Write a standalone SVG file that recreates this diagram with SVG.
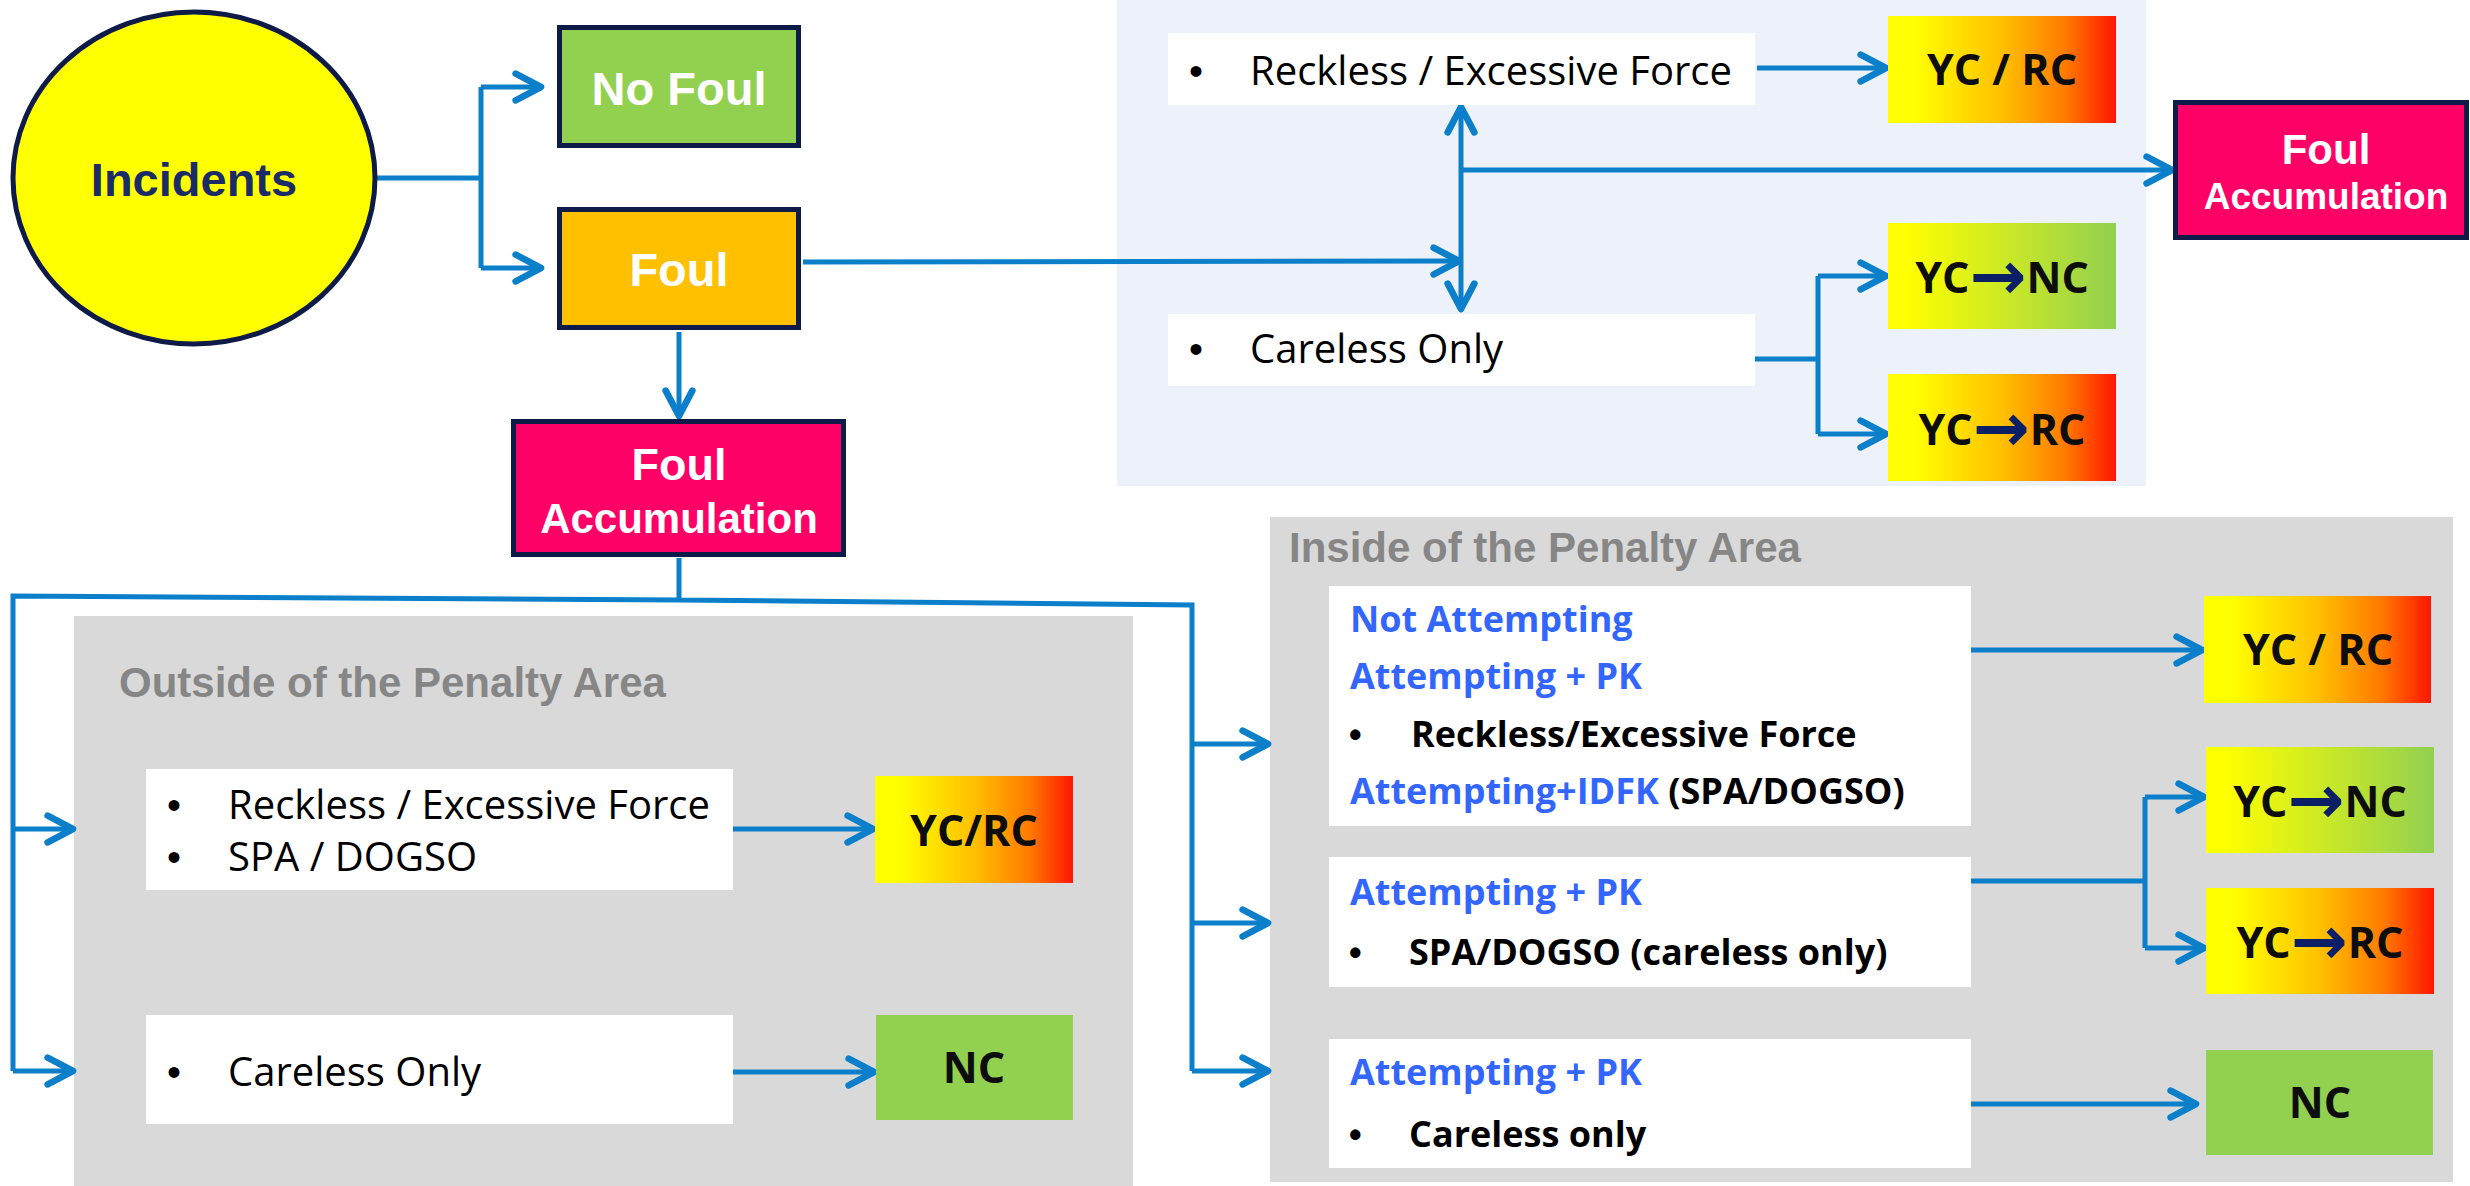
<svg xmlns="http://www.w3.org/2000/svg" width="2470" height="1186" viewBox="0 0 2470 1186">
<defs>
<linearGradient id="gYR" x1="0" y1="0" x2="1" y2="0">
<stop offset="0" stop-color="#FFFF00"/>
<stop offset="0.12" stop-color="#FFFF00"/>
<stop offset="0.5" stop-color="#FFC000"/>
<stop offset="0.78" stop-color="#FF7A00"/>
<stop offset="1" stop-color="#FF1600"/>
</linearGradient>
<linearGradient id="gYG" x1="0" y1="0" x2="1" y2="0">
<stop offset="0" stop-color="#FFFF00"/>
<stop offset="0.08" stop-color="#FFFF00"/>
<stop offset="1" stop-color="#92D050"/>
</linearGradient>
<marker id="ah" markerUnits="userSpaceOnUse" markerWidth="40" markerHeight="40" viewBox="-25 -15 30 30" refX="0" refY="0" orient="auto-start-reverse" overflow="visible">
<path d="M-19,-10 L0,0 L-19,10" fill="none" stroke="#0B7FC9" stroke-width="5" stroke-linecap="round" stroke-linejoin="round"/>
</marker>
</defs>
<style>
.hd{font-family:"Liberation Sans",Arial,sans-serif;font-weight:bold;}
.sg{font-family:"Open Sans","Noto Sans",sans-serif;}
.sgb{font-family:"Open Sans","Noto Sans",sans-serif;font-weight:bold;}
.ln{fill:none;stroke:#0B7FC9;stroke-width:5;}
.ae{marker-end:url(#ah);}
.ab{marker-start:url(#ah);marker-end:url(#ah);}
.nb{stroke:#0E1A47;stroke-width:5;}
.wb{fill:#FFFFFF;}
.res{font-family:"Open Sans","Noto Sans",sans-serif;font-weight:bold;font-size:43px;fill:#0D0D0D;text-anchor:middle;}
.arw{font-family:"DejaVu Sans",sans-serif;font-weight:bold;font-size:68px;fill:#0A1F66;}
.rt{font-size:40px;fill:#000000;}
.bt{font-size:36px;}
.bul{font-family:"Liberation Sans",Arial,sans-serif;}
.blue{fill:#3366FF;}
.blk{fill:#000000;}
.wt{fill:#FFFFFF;text-anchor:middle;}
.gh{font-size:42px;fill:#868686;}
</style>
<rect x="0" y="0" width="2470" height="1186" fill="#FFFFFF"/>

<g id="panel-top"><rect x="1117" y="0" width="1029" height="486" fill="#EDF2FA"/></g>
<g id="panel-outside"><rect x="74" y="616" width="1059" height="570" fill="#D9D9D9"/>
<text class="hd gh" x="119" y="697">Outside of the Penalty Area</text></g>
<g id="panel-inside"><rect x="1270" y="517" width="1183" height="665" fill="#D9D9D9"/>
<text class="hd gh" x="1289" y="562">Inside of the Penalty Area</text></g>

<g id="connectors">
<path class="ln" d="M376,178 H481 M481,87 V268"/>
<path class="ln ae" d="M481,87 H541"/>
<path class="ln ae" d="M481,268 H541"/>
<path class="ln ae" d="M803,262 L1459,261"/>
<path class="ln ab" d="M1461,107 V309"/>
<path class="ln ae" d="M1461,170 H2172"/>
<path class="ln ae" d="M1757,68 H1886"/>
<path class="ln" d="M1755,359 H1818 M1818,276 V434"/>
<path class="ln ae" d="M1818,276 H1886"/>
<path class="ln ae" d="M1818,434 H1886"/>
<path class="ln ae" d="M679,332 V416"/>
<path class="ln" d="M679,558 V600 M679,600 L13,596 V1071 M679,600 L1192,605 V1071"/>
<path class="ln ae" d="M13,829 H73"/>
<path class="ln ae" d="M13,1071 H73"/>
<path class="ln ae" d="M1192,744 H1268"/>
<path class="ln ae" d="M1192,923 H1268"/>
<path class="ln ae" d="M1192,1071 H1268"/>
<path class="ln ae" d="M733,829 H873"/>
<path class="ln ae" d="M733,1072 H874"/>
<path class="ln ae" d="M1971,650 H2202"/>
<path class="ln" d="M1971,881 H2145 M2145,797 V948"/>
<path class="ln ae" d="M2145,797 H2204"/>
<path class="ln ae" d="M2145,948 H2204"/>
<path class="ln ae" d="M1971,1104 H2196"/>
</g>

<g id="incidents">
<ellipse cx="194" cy="178" rx="181" ry="166" fill="#FFFF00" class="nb"/>
<text class="hd" x="194" y="196" font-size="47" fill="#1B2B68" text-anchor="middle">Incidents</text>
</g>
<g id="no-foul">
<rect x="559.5" y="27.5" width="239" height="118" fill="#92D050" class="nb"/>
<text class="hd wt" x="679" y="105" font-size="47">No Foul</text>
</g>
<g id="foul">
<rect x="559.5" y="209.5" width="239" height="118" fill="#FFC000" class="nb"/>
<text class="hd wt" x="679" y="286" font-size="47">Foul</text>
</g>
<g id="foul-accumulation-mid">
<rect x="513.5" y="421.5" width="330" height="133" fill="#FF0066" class="nb"/>
<text class="hd wt" x="679" y="480" font-size="45">Foul</text>
<text class="hd wt" x="679" y="533" font-size="42">Accumulation</text>
</g>
<g id="foul-accumulation-right">
<rect x="2175.5" y="102.5" width="291" height="135" fill="#FF0066" class="nb"/>
<text class="hd wt" x="2326" y="164" font-size="42">Foul</text>
<text class="hd wt" x="2326" y="209" font-size="37">Accumulation</text>
</g>

<g id="top-reckless">
<rect class="wb" x="1168" y="33" width="587" height="72"/>
<text class="sg rt" y="85"><tspan class="bul" x="1189">•</tspan><tspan x="1250">Reckless / Excessive Force</tspan></text>
</g>
<g id="top-careless">
<rect class="wb" x="1168" y="314" width="587" height="72"/>
<text class="sg rt" y="363"><tspan class="bul" x="1189">•</tspan><tspan x="1250">Careless Only</tspan></text>
</g>
<g id="top-ycrc">
<rect x="1888" y="16" width="228" height="107" fill="url(#gYR)"/>
<text class="res" x="2002" y="85">YC / RC</text>
</g>
<g id="top-ycnc">
<rect x="1888" y="223" width="228" height="106" fill="url(#gYG)"/>
<text class="res" x="2002" y="293">YC<tspan class="arw" dy="6">→</tspan><tspan dy="-6">NC</tspan></text>
</g>
<g id="top-ycrc2">
<rect x="1888" y="374" width="228" height="107" fill="url(#gYR)"/>
<text class="res" x="2002" y="445">YC<tspan class="arw" dy="6">→</tspan><tspan dy="-6">RC</tspan></text>
</g>

<g id="out-reckless">
<rect class="wb" x="146" y="769" width="587" height="121"/>
<text class="sg rt" y="819"><tspan class="bul" x="167">•</tspan><tspan x="228">Reckless / Excessive Force</tspan></text>
<text class="sg rt" y="871"><tspan class="bul" x="167">•</tspan><tspan x="228">SPA / DOGSO</tspan></text>
</g>
<g id="out-careless">
<rect class="wb" x="146" y="1015" width="587" height="109"/>
<text class="sg rt" y="1086"><tspan class="bul" x="167">•</tspan><tspan x="228">Careless Only</tspan></text>
</g>
<g id="out-ycrc">
<rect x="875" y="776" width="198" height="107" fill="url(#gYR)"/>
<text class="res" x="974" y="846">YC/RC</text>
</g>
<g id="out-nc">
<rect x="876" y="1015" width="197" height="105" fill="#92D050"/>
<text class="res" x="974" y="1083">NC</text>
</g>

<g id="in-a">
<rect class="wb" x="1329" y="586" width="642" height="240"/>
<text class="sgb bt blue" x="1350" y="632">Not Attempting</text>
<text class="sgb bt blue" x="1350" y="689">Attempting + PK</text>
<text class="sgb bt blk" y="747"><tspan class="bul" x="1349">•</tspan><tspan x="1411">Reckless/Excessive Force</tspan></text>
<text class="sgb bt blue" x="1350" y="804">Attempting+IDFK<tspan class="blk"> (SPA/DOGSO)</tspan></text>
</g>
<g id="in-b">
<rect class="wb" x="1329" y="857" width="642" height="130"/>
<text class="sgb bt blue" x="1350" y="905">Attempting + PK</text>
<text class="sgb bt blk" y="965"><tspan class="bul" x="1349">•</tspan><tspan x="1409">SPA/DOGSO (careless only)</tspan></text>
</g>
<g id="in-c">
<rect class="wb" x="1329" y="1039" width="642" height="129"/>
<text class="sgb bt blue" x="1350" y="1085">Attempting + PK</text>
<text class="sgb bt blk" y="1147"><tspan class="bul" x="1349">•</tspan><tspan x="1409">Careless only</tspan></text>
</g>
<g id="in-ycrc">
<rect x="2204" y="596" width="227" height="107" fill="url(#gYR)"/>
<text class="res" x="2318" y="665">YC / RC</text>
</g>
<g id="in-ycnc">
<rect x="2206" y="747" width="228" height="106" fill="url(#gYG)"/>
<text class="res" x="2320" y="817">YC<tspan class="arw" dy="6">→</tspan><tspan dy="-6">NC</tspan></text>
</g>
<g id="in-ycrc2">
<rect x="2206" y="888" width="228" height="106" fill="url(#gYR)"/>
<text class="res" x="2320" y="958">YC<tspan class="arw" dy="6">→</tspan><tspan dy="-6">RC</tspan></text>
</g>
<g id="in-nc">
<rect x="2206" y="1050" width="227" height="105" fill="#92D050"/>
<text class="res" x="2320" y="1118">NC</text>
</g>
</svg>
